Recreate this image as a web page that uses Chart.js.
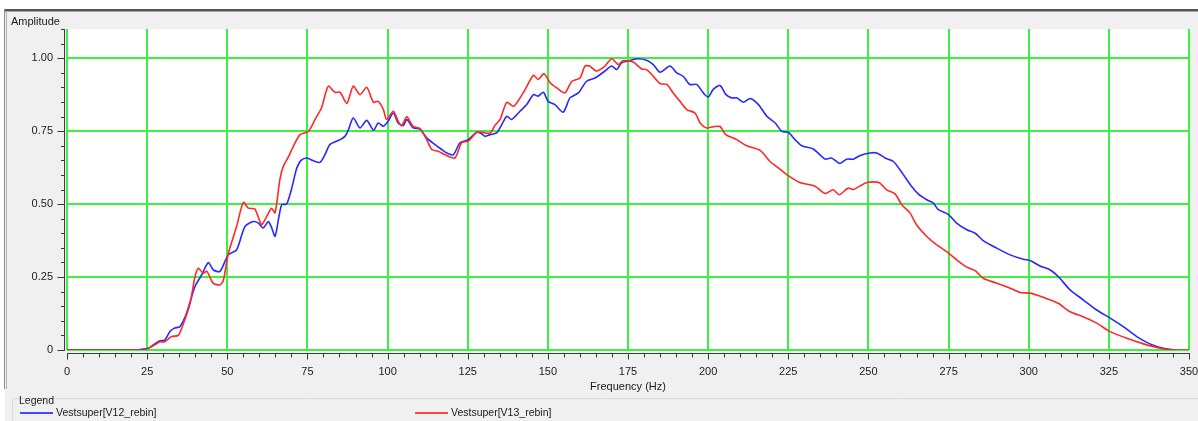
<!DOCTYPE html>
<html>
<head>
<meta charset="utf-8">
<script src="https://cdn.jsdelivr.net/npm/chart.js@4/dist/chart.umd.min.js"></script>
<style>
  html, body { margin: 0; padding: 0; background: #ffffff; }
  #wrap { position: relative; width: 1198px; height: 421px; overflow: hidden; font-family: "Liberation Sans", Arial, sans-serif; color: #1a1a1a; }
  #plot { position: absolute; left: 0; top: 0; }
  .txt { position: absolute; font-size: 11px; line-height: 13px; white-space: nowrap; }
  .key { position: absolute; height: 2px; width: 33px; }
</style>
</head>
<body>
<div id="wrap">
  <canvas id="plot" width="1198" height="421"></canvas>
  <div class="txt" style="left:11px; top:15px;">Amplitude</div>
  <div class="txt" style="left:19px; top:394px; font-size:10.5px;">Legend</div>
  <div class="key" style="left:20px; top:412px; background:rgb(70,70,255);"></div>
  <div class="txt" id="lab1" style="left:56px; top:406px; font-size:10.5px;"></div>
  <div class="key" style="left:415px; top:412px; background:rgb(255,70,70);"></div>
  <div class="txt" id="lab2" style="left:451px; top:406px; font-size:10.5px;"></div>
</div>
<script>
// Series names
const seriesNames = ['Vestsuper[V12_rebin]', 'Vestsuper[V13_rebin]'];

// V12 spectrum (Hz, amplitude)
const freqV12 = [0, 22, 23, 25.4, 27, 29, 30.5, 32.1, 33.5, 35.2, 37.3, 39.9, 42, 44.1, 45.6, 47.7, 50.3, 52.9, 55.5, 58.1,
  59.7, 61.2, 62.8, 63.8, 64.9, 66, 67, 68.5, 70, 71.1, 71.7, 73, 74.8, 76.5, 78.9, 80.5, 82, 85.2, 86.7, 87.8,
  89.3, 91.4, 93.5, 95.6, 97.1, 98.7, 100.2, 101.8, 103.3, 104.9, 106, 108, 110.1, 112.2, 114.8, 116.9, 118.5, 120.5, 122.6, 125.2,
  127.8, 129.2, 130.4, 132, 134, 135.6, 137.2, 138.7, 141.3, 143.4, 145.5, 147, 148.6, 150.1, 152.2, 154.8, 156.9, 159.5, 162.1, 164.7,
  167.8, 169.9, 171.5, 173, 175.1, 177.7, 180.8, 182.9, 185, 188.1, 190.2, 192.2, 194.3, 196.4, 198.5, 200, 201.6, 203.7, 205.5, 207.3,
  208.9, 211, 213.1, 215.7, 218.3, 220.9, 223, 225, 227.1, 229.2, 232.8, 236.5, 238.5, 241.1, 243.2, 245.3, 247.3, 250.5, 252.6, 255.2,
  257.8, 260.9, 263.5, 265.5, 268.2, 270.2, 271.8, 274.9, 277.5, 280.7, 283.3, 285.8, 290, 294.2, 298.3, 300.4, 303.5, 306.6, 309.2, 312.9,
  317, 321.2, 325.4, 329.5, 333.7, 337.8, 342, 345.6];
const ampV12 = [0, 0, 0.002, 0.006, 0.018, 0.032, 0.034, 0.063, 0.075, 0.08, 0.126, 0.217, 0.257, 0.30, 0.275, 0.269, 0.326, 0.343, 0.423, 0.44,
  0.435, 0.418, 0.44, 0.42, 0.39, 0.45, 0.498, 0.50, 0.55, 0.60, 0.624, 0.65, 0.658, 0.65, 0.643, 0.67, 0.704, 0.721, 0.732, 0.755,
  0.795, 0.761, 0.787, 0.753, 0.778, 0.767, 0.784, 0.812, 0.778, 0.769, 0.79, 0.761, 0.757, 0.727, 0.704, 0.687, 0.675, 0.669, 0.71, 0.721,
  0.746, 0.742, 0.732, 0.738, 0.744, 0.772, 0.801, 0.79, 0.818, 0.841, 0.875, 0.87, 0.883, 0.852, 0.841, 0.815, 0.864, 0.881, 0.921, 0.932,
  0.956, 0.973, 0.961, 0.984, 0.99, 0.998, 0.993, 0.978, 0.952, 0.973, 0.95, 0.938, 0.91, 0.91, 0.881, 0.867, 0.893, 0.906, 0.876, 0.864,
  0.864, 0.849, 0.862, 0.841, 0.801, 0.778, 0.749, 0.746, 0.721, 0.70, 0.689, 0.654, 0.658, 0.639, 0.654, 0.654, 0.666, 0.675, 0.675, 0.658,
  0.646, 0.601, 0.56, 0.535, 0.515, 0.504, 0.481, 0.465, 0.435, 0.412, 0.40, 0.375, 0.349, 0.326, 0.311, 0.307, 0.288, 0.275, 0.252, 0.206,
  0.172, 0.137, 0.109, 0.08, 0.046, 0.021, 0.006, 0];

// V13 spectrum (Hz, amplitude)
const freqV13 = [0, 24, 25.4, 27, 29, 30.5, 32.6, 34.7, 36.3, 38.4, 39.9, 41, 42.5, 43.6, 45.6, 47.7, 48.8, 50.3, 52.9, 55,
  56.6, 58.6, 60.7, 62.3, 63.8, 64.9, 66.4, 67.5, 69, 70.6, 72.7, 75.3, 77.4, 79.4, 81.5, 83.6, 85.2, 87.3, 89.3, 91.4,
  93.5, 95.6, 97.1, 98.7, 99.7, 101.8, 103.3, 104.4, 106, 108, 110.1, 112.2, 113.8, 115.8, 117.9, 121, 123.1, 125.2, 127.8, 129.9,
  132, 133.5, 135.1, 137.2, 139.3, 142.3, 145.5, 147, 148.8, 150.7, 152.8, 155.3, 157.5, 160, 161.6, 163, 165.2, 167.8, 169.9, 172,
  173.5, 176.7, 179.3, 180.8, 182.9, 185, 187.1, 189.1, 191.2, 193.3, 195.9, 197.5, 199.5, 201.6, 203.7, 205.5, 208.9, 212, 216.2, 219.3,
  221.9, 224.5, 228.6, 233.3, 236.5, 239, 240.9, 243.7, 245.3, 249.5, 253.3, 255.7, 258.3, 260.4, 263, 265, 268.2, 271.3, 274.4, 277.5,
  280.7, 283.3, 285.8, 290, 294.2, 297.3, 300.4, 304.5, 309.2, 312.9, 317, 321.2, 325.4, 330.6, 335.8, 341, 345, 350];
const ampV13 = [0, 0, 0.006, 0.015, 0.028, 0.028, 0.046, 0.05, 0.09, 0.16, 0.25, 0.28, 0.263, 0.27, 0.229, 0.223, 0.24, 0.33, 0.423, 0.506,
  0.486, 0.483, 0.43, 0.458, 0.486, 0.47, 0.584, 0.63, 0.66, 0.698, 0.738, 0.749, 0.79, 0.83, 0.904, 0.883, 0.883, 0.845, 0.904, 0.875,
  0.90, 0.849, 0.852, 0.824, 0.79, 0.818, 0.784, 0.769, 0.799, 0.766, 0.759, 0.721, 0.687, 0.681, 0.669, 0.658, 0.71, 0.716, 0.746, 0.745,
  0.743, 0.77, 0.79, 0.849, 0.835, 0.881, 0.941, 0.927, 0.947, 0.916, 0.898, 0.881, 0.921, 0.932, 0.973, 0.973, 0.956, 0.973, 0.998, 0.978,
  0.992, 0.986, 0.963, 0.961, 0.938, 0.913, 0.91, 0.881, 0.852, 0.824, 0.812, 0.778, 0.761, 0.765, 0.766, 0.738, 0.721, 0.70, 0.684, 0.646,
  0.624, 0.601, 0.574, 0.561, 0.536, 0.549, 0.532, 0.555, 0.55, 0.574, 0.574, 0.549, 0.535, 0.498, 0.469, 0.429, 0.389, 0.36, 0.337, 0.309,
  0.284, 0.272, 0.246, 0.229, 0.212, 0.197, 0.195, 0.181, 0.16, 0.131, 0.114, 0.092, 0.063, 0.04, 0.021, 0.006, 0, 0];

// Axis ticks
const xTickValues = [0, 25, 50, 75, 100, 125, 150, 175, 200, 225, 250, 275, 300, 325, 350];
const yTickValues = [0, 0.25, 0.5, 0.75, 1.0];
const yTickLabels = ['0', '0.25', '0.50', '0.75', '1.00'];

document.getElementById('lab1').textContent = seriesNames[0];
document.getElementById('lab2').textContent = seriesNames[1];

const toPoints = (xs, ys) => xs.map((x, i) => ({ x: x, y: ys[i] }));

const GRID_GREEN = 'rgb(64,240,64)';
const AXIS_INK = '#3a3a3a';
const tickFont = { family: 'Liberation Sans', size: 11 };

// Window frame, panel background and white plotting area
const framePlugin = {
  id: 'frame',
  beforeDraw(chart) {
    const c = chart.ctx, a = chart.chartArea;
    c.save();
    c.fillStyle = '#ffffff';
    c.fillRect(0, 0, chart.width, chart.height);
    c.fillStyle = '#f0f0f0';
    c.fillRect(5, 11, chart.width - 5, chart.height - 11);
    c.fillStyle = '#555555';
    c.fillRect(4, 9, chart.width - 4, 2);
    c.fillStyle = '#a8a8a8';
    c.fillRect(4, 11, chart.width - 4, 1);
    c.fillStyle = '#8c8c8c';
    c.fillRect(4, 9, 1, 380);
    c.fillStyle = '#b4b4b4';
    c.fillRect(6, 12, 1, 377);
    // legend group box outline
    c.strokeStyle = '#d6d9e0';
    c.lineWidth = 1;
    c.beginPath();
    c.moveTo(12.5, 421);
    c.lineTo(12.5, 401.5);
    c.quadraticCurveTo(12.5, 398.5, 15.5, 398.5);
    c.lineTo(chart.width, 398.5);
    c.stroke();
    c.fillStyle = '#ffffff';
    c.fillRect(a.left, a.top, a.right - a.left, a.bottom - a.top);
    c.restore();
  },
  afterDraw(chart) {
    const c = chart.ctx, a = chart.chartArea;
    const xs = chart.scales.x, ys = chart.scales.y;
    c.save();
    c.strokeStyle = AXIS_INK;
    c.lineWidth = 1;
    c.beginPath();
    // vertical axis with major and minor ticks
    const ax = a.left - 2.5;
    c.moveTo(ax, a.top);
    c.lineTo(ax, a.bottom + 1);
    for (let k = 0; k <= 22; k++) {
      const v = k * 0.05;
      const py = Math.round(ys.getPixelForValue(v)) + 0.5;
      const major = k % 5 === 0;
      c.moveTo(ax - (major ? 7 : 3.5), py);
      c.lineTo(ax, py);
    }
    // horizontal axis with major and minor ticks
    const ay = a.bottom + 3.5;
    c.moveTo(a.left, ay);
    c.lineTo(a.right + 1, ay);
    for (let f = 0; f <= 350; f += 5) {
      const px = Math.round(xs.getPixelForValue(f)) + 0.5;
      const major = f % 25 === 0;
      c.moveTo(px, ay);
      c.lineTo(px, ay + (major ? 6 : 4));
    }
    c.stroke();
    c.restore();
  }
};

new Chart(document.getElementById('plot'), {
  type: 'line',
  data: {
    datasets: [
      {
        label: seriesNames[0],
        data: toPoints(freqV12, ampV12),
        borderColor: 'rgb(40,40,255)',
        borderWidth: 1.6,
        pointRadius: 0,
        tension: 0.25,
        fill: false,
        order: 1
      },
      {
        label: seriesNames[1],
        data: toPoints(freqV13, ampV13),
        borderColor: 'rgb(255,40,40)',
        borderWidth: 1.6,
        pointRadius: 0,
        tension: 0.25,
        fill: false,
        order: 0
      }
    ]
  },
  options: {
    responsive: false,
    animation: false,
    devicePixelRatio: 1,
    layout: { padding: { left: 0, right: 9, top: 29, bottom: 21 } },
    plugins: {
      legend: { display: false },
      tooltip: { enabled: false },
      title: { display: false }
    },
    scales: {
      x: {
        type: 'linear',
        min: 0,
        max: 350,
        afterFit(s) { s.height = 50; s.paddingLeft = 0; s.paddingRight = 0; },
        afterBuildTicks(s) { s.ticks = xTickValues.map(v => ({ value: v })); },
        ticks: {
          padding: 15,
          font: tickFont,
          color: '#1a1a1a',
          autoSkip: false,
          maxRotation: 0,
          callback: (v) => String(v)
        },
        grid: { color: GRID_GREEN, lineWidth: 2, drawTicks: false },
        border: { display: false },
        title: {
          display: true,
          text: 'Frequency (Hz)',
          font: tickFont,
          color: '#1a1a1a',
          padding: { top: 0, bottom: 6 }
        }
      },
      y: {
        type: 'linear',
        min: 0,
        max: 1.1,
        afterFit(s) { s.width = 67; s.paddingTop = 0; s.paddingBottom = 0; },
        afterBuildTicks(s) { s.ticks = yTickValues.map(v => ({ value: v })); },
        ticks: {
          padding: 14,
          font: tickFont,
          color: '#1a1a1a',
          autoSkip: false,
          callback: (v, i) => yTickLabels[i]
        },
        grid: { color: GRID_GREEN, lineWidth: 2, drawTicks: false },
        border: { display: false }
      }
    }
  },
  plugins: [framePlugin]
});
</script>
</body>
</html>
